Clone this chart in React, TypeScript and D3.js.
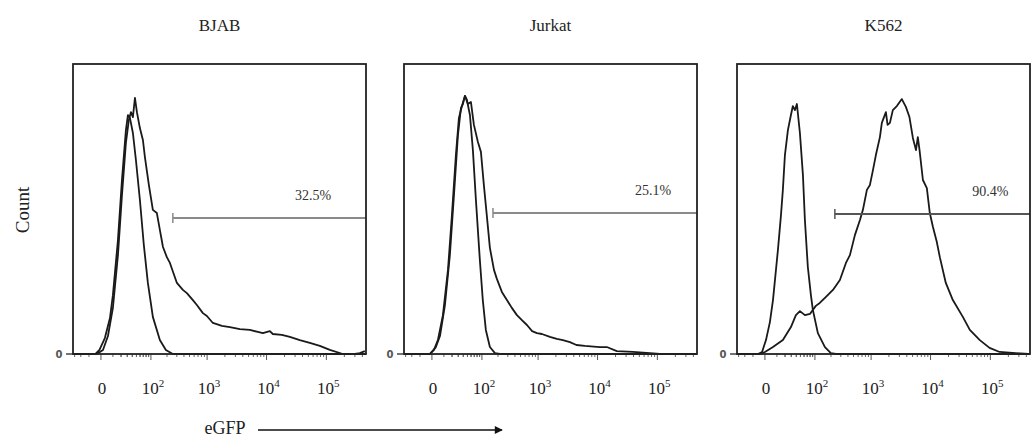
import React from 'react';
import * as d3 from 'd3';

// flow histograms: [fluorescence value, % of max]
const panelNames = ['BJAB', 'Jurkat', 'K562'];
const gatePercent = ['32.5%', '25.1%', '90.4%'];
const gateStart = [255, 162, 235];
const gateLevel = [46.9, 48.6, 48.3];
const gateLabelX = [60000, 85000, 100000];

const xTickValues = [0, 1e2, 1e3, 1e4, 1e5];
const xTickBase = ['0', '10', '10', '10', '10'];
const xTickExp = ['', '2', '3', '4', '5'];

const bjabControl = [
  [-33, 0], [-9, 0], [-4, 0], [-1, 1.4], [2.8, 5.5], [7.1, 12.4], [10, 20.3], [15.8, 39.3],
  [21.3, 60], [27.6, 77.2], [31.2, 82.4], [35.1, 81.4], [41.4, 76.2], [48.6, 66.9], [59.5, 53.1],
  [72, 37.6], [87, 24.5], [109, 12.8], [148, 4.8], [191, 1.4], [255, 0], [460000, 0]
];
const bjabSample = [
  [-33, 0], [-3, 0], [1.4, 1.4], [5.3, 6.2], [10, 15.9], [15.8, 34.1], [21.3, 54.8], [27.6, 72.8],
  [33, 80.7], [37.1, 83.4], [41.4, 81.7], [46.2, 88.3], [51.2, 83.4], [59.5, 77.9], [68.9, 73.8],
  [75.8, 67.9], [91, 58.3], [109, 49.7], [130, 48.6], [148, 42.8], [169, 36.9], [199, 33.4],
  [226, 31.4], [301, 24.5], [383, 22.1], [450, 21], [571, 18.6], [669, 16.9], [848, 14.1],
  [992, 13.1], [1253, 10.7], [1780, 9.7], [2428, 9.3], [3570, 8.6], [5260, 8.3], [7150, 7.6],
  [8670, 7.2], [11360, 7.9], [12740, 6.9], [18000, 6.6], [24530, 5.9], [36030, 4.8], [52960, 3.8],
  [77840, 2.8], [114400, 1.4], [188600, 0], [300000, 0], [362500, 0.3], [440000, 1]
];
const jurkatControl = [
  [-33, 0], [-1.4, 0], [2.8, 2.4], [6.2, 6.2], [11.1, 16.9], [17, 34.1], [22.8, 54.8], [29.4, 75.5],
  [35.1, 84.8], [39.2, 86.2], [43.8, 89], [48.6, 87.6], [56.7, 82.4], [65.6, 70.3], [75.8, 53.1],
  [91, 32.4], [104, 18.6], [119, 8.3], [142, 2.4], [176, 0.3], [217, 0], [460000, 0]
];
const jurkatSample = [
  [-33, 0], [-1.4, 0], [1.4, 1.4], [4.4, 4.8], [9, 13.4], [14.6, 29], [19.8, 47.9], [25.9, 68.6],
  [31.2, 81.4], [37.1, 85.5], [43.8, 89], [51.2, 86.2], [59.5, 86.9], [68.9, 79], [83.2, 73.1],
  [95.5, 69.7], [109, 58.3], [124, 47.9], [142, 36.6], [169, 29], [191, 25.9], [235, 21.4],
  [289, 18.6], [353, 15.9], [433, 13.4], [528, 11.7], [645, 10], [790, 7.9], [955, 7.2],
  [1160, 6.9], [1585, 5.9], [2075, 5.2], [2620, 4.8], [3440, 4.1], [4430, 3.1], [6120, 2.8],
  [10970, 2.4], [14300, 2.4], [21000, 1], [39000, 0.7], [75000, 0.3], [110000, 0], [460000, 0]
];
const k562Control = [
  [-33, 0], [-5.3, 0], [-2, 0.7], [0.7, 4.8], [3.6, 11], [6.2, 18.6], [11.1, 35.9], [14.6, 47.9],
  [17, 56.6], [19.8, 68.6], [24.3, 77.2], [29.4, 82.4], [33, 85.5], [37.1, 84.1], [41.4, 86.2],
  [48.6, 76.2], [56.7, 61.7], [62.5, 46.2], [72, 30], [83.2, 20.3], [91, 15.2], [114, 7.2],
  [155, 2.4], [199, 0.3], [245, 0], [460000, 0]
];
const k562Sample = [
  [-33, 0], [-3.6, 0], [0, 0.7], [6.2, 2.4], [17, 4.8], [29.4, 9.3], [39.2, 13.4], [48.6, 14.8],
  [62.5, 13.4], [79.5, 13.8], [104, 16.6], [124, 17.6], [162, 19.7], [217, 22.1], [289, 25.5],
  [369, 31.4], [433, 34.1], [528, 41], [645, 46.2], [725, 49.7], [848, 56.6], [955, 58.3],
  [1075, 63.4], [1205, 68.6], [1410, 74.8], [1520, 79.7], [1780, 83.4], [1900, 79], [2080, 79.7],
  [2330, 84.1], [2720, 85.5], [3300, 87.9], [3860, 85.2], [4430, 81.7], [5060, 74.5], [5700, 70.3],
  [6120, 74.8], [6540, 70.3], [7450, 60], [8670, 57.2], [9720, 48.6], [10970, 43.8], [12740, 38.6],
  [14300, 33.4], [18000, 24.5], [23600, 18.6], [34700, 12.8], [45400, 8.3], [66700, 4.8],
  [97000, 2.1], [143000, 0.7], [265000, 0.3], [440000, 0]
];

const controls = [bjabControl, jurkatControl, k562Control];
const samples = [bjabSample, jurkatSample, k562Sample];

const panelLeft = [73, 404, 737];
const panelTop = 64;
const panelW = 293;
const panelH = 290;
const serif = '"Liberation Serif", "Times New Roman", serif';

// minor ticks of the biexponential axis
const minorTicks: number[] = [-30, -20, -10];
for (let k = 1; k <= 5; k++) {
  for (let m = 2; m <= 9; m++) {
    const v = m * Math.pow(10, k);
    if (v < 450000) minorTicks.push(v);
  }
}
for (let m = 1; m <= 9; m++) minorTicks.push(m * 10);

export default function App() {
  const x = d3.scaleSymlog().constant(17.1).domain([-33, 460000]).range([0, panelW]);
  const y = d3.scaleLinear().domain([0, 100]).range([panelH, 0]);
  const line = d3.line<number[]>().x(d => x(d[0])).y(d => y(d[1]));

  return (
    <div style={{ position: 'fixed', left: 0, top: 0 }}>
      <svg width={1036} height={439} style={{ display: 'block', background: '#fff' }}>
        <text x={29} y={210} transform="rotate(-90 29 210)" textAnchor="middle" fontFamily={serif}
          fontSize={19} fill="#222">Count</text>

        {panelNames.map((name, i) => (
          <g key={name} transform={`translate(${panelLeft[i]},${panelTop})`}>
            <text x={panelW / 2} y={-33} textAnchor="middle" fontFamily={serif} fontSize={17} fill="#222">{name}</text>

            {minorTicks.map(v => (
              <line key={v} x1={x(v)} x2={x(v)} y1={panelH} y2={panelH + 3} stroke="#666" strokeWidth={1} />
            ))}
            {xTickValues.map((v, j) => (
              <g key={j}>
                <line x1={x(v)} x2={x(v)} y1={panelH} y2={panelH + 6} stroke="#555" strokeWidth={1} />
                <text x={x(v) + (j ? 2 : 1)} y={panelH + 40} textAnchor="middle" fontFamily={serif} fontSize={17} fill="#222">
                  {xTickBase[j]}
                  {xTickExp[j] && <tspan dy={-7} fontSize={11}>{xTickExp[j]}</tspan>}
                </text>
              </g>
            ))}

            <line x1={-7} x2={0} y1={y(0)} y2={y(0)} stroke="#444" strokeWidth={1.5} />
            <text x={-14} y={y(0) + 4} textAnchor="middle" fontFamily="DejaVu Sans, sans-serif" fontWeight="bold"
              fontSize={10} fill="#555">0</text>

            <path d={line(controls[i]) || ''} fill="none" stroke="#1a1a1a" strokeWidth={1.8} strokeLinejoin="round" />
            <path d={line(samples[i]) || ''} fill="none" stroke="#1a1a1a" strokeWidth={1.8} strokeLinejoin="round" />

            <line x1={x(gateStart[i])} x2={panelW} y1={y(gateLevel[i])} y2={y(gateLevel[i])}
              stroke={i === 2 ? '#555' : '#8a8a8a'} strokeWidth={2} />
            <line x1={x(gateStart[i])} x2={x(gateStart[i])} y1={y(gateLevel[i]) - 5} y2={y(gateLevel[i]) + 5}
              stroke={i === 2 ? '#555' : '#8a8a8a'} strokeWidth={1.5} />
            <text x={x(gateLabelX[i])} y={y(gateLevel[i]) - 18} textAnchor="middle" fontFamily={serif}
              fontSize={14} fill="#333">{gatePercent[i]}</text>

            <rect x={0} y={0} width={panelW} height={panelH} fill="none" stroke="#222" strokeWidth={1.8} />
          </g>
        ))}

        <text x={225} y={434} textAnchor="middle" fontFamily={serif} fontSize={18} fill="#222">eGFP</text>
        <defs>
          <marker id="arrow" viewBox="0 0 10 10" refX={9} refY={5} markerWidth={13} markerHeight={8}
            markerUnits="userSpaceOnUse" orient="auto">
            <path d="M0,0 L10,5 L0,10 Z" fill="#111" />
          </marker>
        </defs>
        <line x1={258} x2={502} y1={430} y2={430} stroke="#111" strokeWidth={1.5} markerEnd="url(#arrow)" />
      </svg>
    </div>
  );
}
